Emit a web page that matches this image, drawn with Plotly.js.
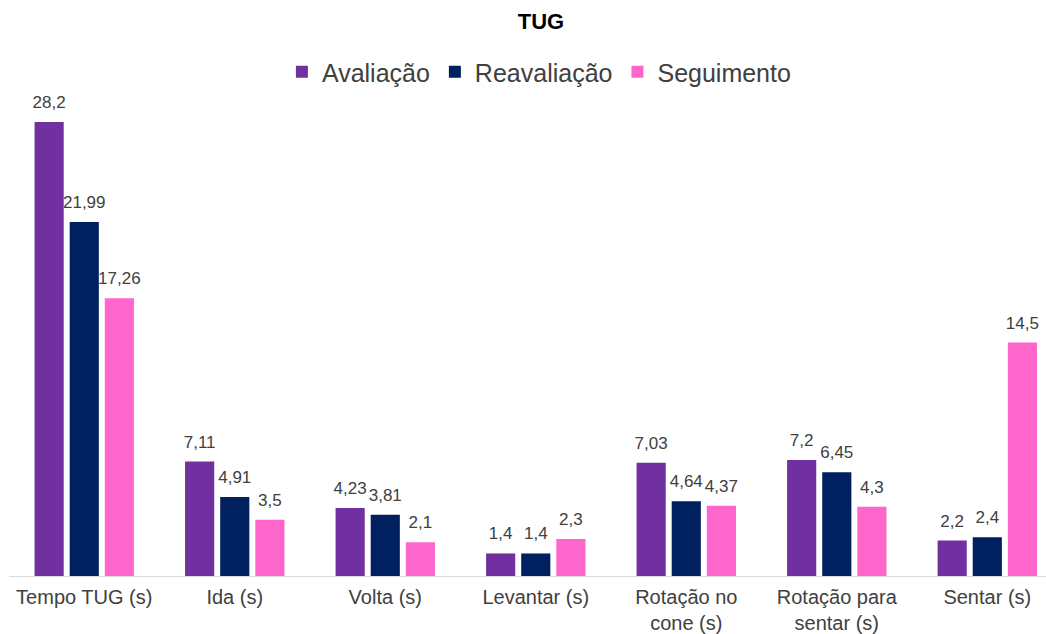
<!DOCTYPE html>
<html><head><meta charset="utf-8">
<script src="https://cdn.plot.ly/plotly-3.0.1.min.js"></script>
<style>html,body{margin:0;padding:0;background:#fff}#c{width:1046px;height:634px}</style>
</head><body><div id="c"></div>
<script>
const categories = ["Tempo TUG (s)", "Ida (s)", "Volta (s)", "Levantar (s)", "Rotação no<br>cone (s)", "Rotação para<br>sentar (s)", "Sentar (s)"];
const avaliacao = [28.2, 7.11, 4.23, 1.4, 7.03, 7.2, 2.2];
const reavaliacao = [21.99, 4.91, 3.81, 1.4, 4.64, 6.45, 2.4];
const seguimento = [17.26, 3.5, 2.1, 2.3, 4.37, 4.3, 14.5];
const seriesNames = ["Avaliação", "Reavaliação", "Seguimento"];
const colors = ["#7030A0", "#002060", "#FF66CC"];

const FONT = 'Liberation Sans, Arial, sans-serif';
const fmt = v => String(v).replace('.', ',');
const series = [avaliacao, reavaliacao, seguimento];
const bars = series.map((vals, i) => ({
  type: 'bar', x: categories, y: vals, name: seriesNames[i],
  marker: {color: colors[i]}, hoverinfo: 'none'
}));
const labels = series.map((vals, i) => ({
  type: 'scatter', mode: 'markers+text', x: categories, y: vals, showlegend: false,
  marker: {size: 14, color: 'rgba(0,0,0,0)'},
  text: vals.map(fmt), textposition: 'top center', cliponaxis: false,
  textfont: {family: FONT, size: 17, color: '#404040'}, hoverinfo: 'none'
}));

const layout = {
  width: 1046, height: 634,
  margin: {l: 9, r: 0, t: 100, b: 58},
  paper_bgcolor: '#fff', plot_bgcolor: '#fff',
  font: {family: FONT, color: '#404040'},
  title: {text: '<b>TUG</b>', x: 0.513, xanchor: 'center', xref: 'paper', y: 1 - 21/634, yanchor: 'middle', yref: 'container',
          font: {size: 22, color: '#000', family: FONT}},
  barmode: 'group', bargap: 0.30, bargroupgap: 0.17,
  scattermode: 'group', scattergap: 0.30,
  showlegend: true,
  legend: {orientation: 'h', x: 0.511, xanchor: 'center', y: 1 - 72/634, yanchor: 'middle', yref: 'container',
           font: {size: 25, color: '#404040'}, itemwidth: 30, tracegroupgap: 0, traceorder: 'normal'},
  xaxis: {range: [-0.5, 6.39], showline: true, linecolor: '#d9d9d9', linewidth: 1,
          showgrid: false, ticks: '', ticklabelstandoff: 3, tickfont: {size: 20, color: '#404040'}, fixedrange: true},
  yaxis: {range: [0, 29.57], visible: false, showgrid: false, zeroline: false, fixedrange: true}
};
Plotly.newPlot('c', bars.concat(labels), layout, {displayModeBar: false, staticPlot: true});
</script></body></html>
